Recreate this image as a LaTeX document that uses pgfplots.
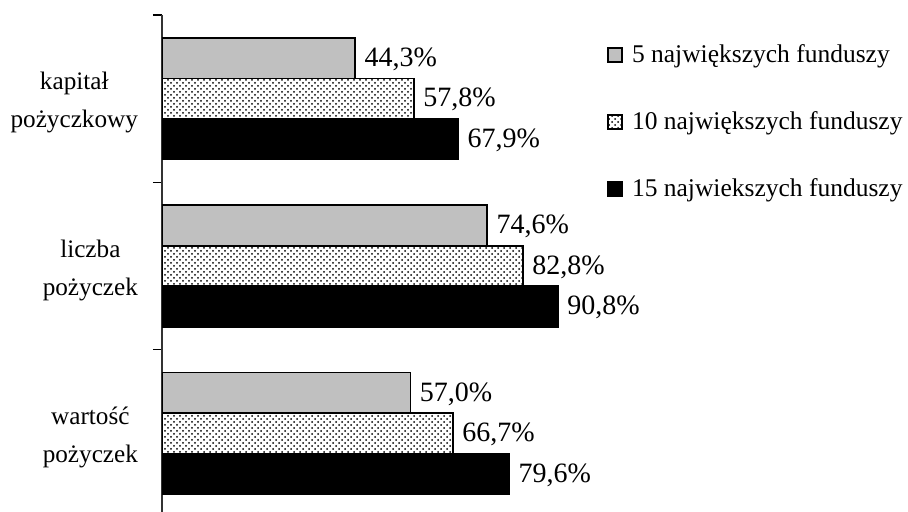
\documentclass[border=0pt]{standalone}
\usepackage{fontspec}
\setmainfont{Liberation Serif}
\usepackage{pgfplots}
\pgfplotsset{compat=1.18}
\usetikzlibrary{patterns}
\definecolor{szary}{RGB}{192,192,192}

\begin{document}
\begin{tikzpicture}[font=\fontsize{13}{20}\selectfont]
\path[use as bounding box] (-81pt,0pt) rectangle (373pt,256pt);
\begin{axis}[
  scale only axis,
  width=218pt, height=248.5pt,
  xbar,
  bar width=0.242,
  xmin=0, xmax=100,
  ymin=-0.5, ymax=2.47,
  y dir=reverse,
  hide x axis,
  axis y line*=left,
  ytick={0,1,2},
  yticklabels={{kapitał\\pożyczkowy},{liczba\\pożyczek},{wartość\\pożyczek}},
  major tick length=0pt,
  minor ytick={-0.5,0.5,1.5},
  minor tick length=4.5pt,
  tick align=outside,
  tick style={black, line width=0.6pt},
  y axis line style={line width=0.6pt, black!80},
  yticklabel style={align=center, xshift=-8.5pt, yshift=-2pt, font=\fontsize{12.6}{19}\selectfont},
  nodes near coords={\pgfmathprintnumber{\pgfplotspointmeta}\%},
  point meta=x,
  /pgf/number format/.cd, fixed, fixed zerofill, precision=1, use comma, assume math mode=true,
  /pgfplots/.cd,
  nodes near coords style={anchor=west, xshift=1pt, yshift=-0.5pt, font=\fontsize{14}{16}\selectfont, text=black},
  legend image code/.code={\draw[#1] (0pt,-3.5pt) rectangle (7pt,3.5pt);},
  legend style={at={(1,1)}, anchor=north west, xshift=4.5pt, yshift=-12.5pt,
    draw=none, fill=none, row sep=19pt, inner sep=0pt,
    font=\fontsize{12.75}{15}\selectfont,
    /tikz/every odd column/.append style={column sep=2.5pt}},
  legend cell align=left,
]
\addplot[draw=black, line width=0.8pt, fill=szary, bar shift=-0.242]
  coordinates {(44.3,0) (74.6,1) (57.0,2)};
\addlegendentry{5 największych funduszy}
\addplot[draw=black, line width=0.8pt, pattern=crosshatch dots, bar shift=0]
  coordinates {(57.8,0) (82.8,1) (66.7,2)};
\addlegendentry{10 największych funduszy}
\addplot[draw=black, line width=0.8pt, fill=black, bar shift=0.242]
  coordinates {(67.9,0) (90.8,1) (79.6,2)};
\addlegendentry{15 najwiekszych funduszy}
\end{axis}
\end{tikzpicture}
\end{document}
